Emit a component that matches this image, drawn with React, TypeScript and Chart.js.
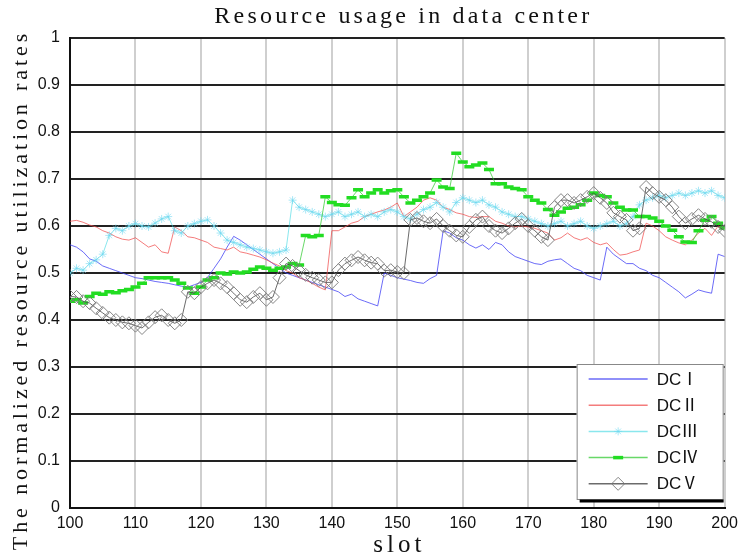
import React, { useEffect, useRef } from 'react';
import { Chart, registerables } from 'chart.js';

Chart.register(...registerables);

const TITLE = 'Resource usage in data center';
const X_TITLE = 'slot';
const Y_TITLE = 'The normalized resource utilization rates';

const X_MIN = 100;
const X_MAX = 200;
const X_STEP = 10;
const Y_MIN = 0;
const Y_MAX = 1;
const Y_STEP = 0.1;

const slots: number[] = [];
for (let s = X_MIN; s <= X_MAX; s++) slots.push(s);

const labels = ['DCⅠ', 'DCⅡ', 'DCⅢ', 'DCⅣ', 'DCⅤ'];

const dc1 = [
  0.56, 0.555, 0.545, 0.53, 0.525, 0.515, 0.51, 0.505, 0.5, 0.495,
  0.49, 0.488, 0.485, 0.482, 0.48, 0.478, 0.475, 0.472, 0.47, 0.475,
  0.48, 0.49, 0.51, 0.53, 0.555, 0.578, 0.57, 0.56, 0.55, 0.54,
  0.53, 0.52, 0.51, 0.5, 0.495, 0.49, 0.485, 0.48, 0.475, 0.47,
  0.465, 0.46, 0.45, 0.455, 0.445, 0.44, 0.435, 0.43, 0.5, 0.495,
  0.49, 0.487, 0.484, 0.48, 0.478, 0.488, 0.495, 0.59, 0.585, 0.575,
  0.57, 0.56, 0.553, 0.56, 0.55, 0.565, 0.56, 0.545, 0.535, 0.53,
  0.525, 0.52, 0.518, 0.525, 0.528, 0.53, 0.52, 0.51, 0.505, 0.495,
  0.49, 0.485, 0.555, 0.54, 0.53, 0.52, 0.52, 0.51, 0.505, 0.495,
  0.49, 0.48, 0.47, 0.46, 0.447, 0.455, 0.464, 0.46, 0.457, 0.54,
  0.535,
];

const dc2 = [
  0.61, 0.612, 0.608, 0.602, 0.598, 0.59, 0.585, 0.577, 0.572, 0.57,
  0.575, 0.565, 0.555, 0.56, 0.545, 0.542, 0.598, 0.59, 0.577, 0.575,
  0.57, 0.565, 0.555, 0.552, 0.549, 0.555, 0.545, 0.542, 0.538, 0.534,
  0.528, 0.521, 0.515, 0.505, 0.5, 0.49, 0.485, 0.478, 0.47, 0.464,
  0.59, 0.59, 0.598, 0.606, 0.61, 0.62, 0.625, 0.63, 0.634, 0.64,
  0.649, 0.62, 0.63, 0.64, 0.655, 0.66, 0.655, 0.64, 0.635, 0.628,
  0.625, 0.62, 0.618, 0.62, 0.62, 0.61, 0.606, 0.6, 0.598, 0.6,
  0.598, 0.595, 0.59, 0.585, 0.57, 0.575, 0.585, 0.575, 0.57, 0.575,
  0.565, 0.56, 0.564, 0.55, 0.538, 0.54, 0.545, 0.549, 0.606, 0.6,
  0.59, 0.577, 0.57, 0.564, 0.56, 0.57, 0.585, 0.595, 0.58, 0.6,
  0.595,
];

const dc3 = [
  0.5, 0.51, 0.506, 0.52, 0.528, 0.54, 0.58, 0.595, 0.59, 0.6,
  0.605, 0.6, 0.598, 0.606, 0.615, 0.62, 0.59, 0.585, 0.6, 0.605,
  0.61, 0.613, 0.6, 0.585, 0.57, 0.565, 0.56, 0.555, 0.552, 0.549,
  0.545, 0.542, 0.545, 0.549, 0.655, 0.64, 0.635, 0.63, 0.625, 0.62,
  0.625, 0.63, 0.62, 0.625, 0.63, 0.62, 0.625, 0.62, 0.63, 0.635,
  0.63, 0.62, 0.615, 0.625, 0.635, 0.64, 0.65, 0.64, 0.63, 0.65,
  0.66, 0.655, 0.65, 0.655, 0.645, 0.64, 0.63, 0.625, 0.62, 0.62,
  0.615, 0.61, 0.605, 0.6, 0.605, 0.61, 0.6, 0.605, 0.61, 0.6,
  0.595, 0.6, 0.605, 0.61, 0.6, 0.605, 0.62, 0.645, 0.655, 0.66,
  0.665, 0.66, 0.665, 0.67, 0.665, 0.67, 0.675, 0.67, 0.675, 0.665,
  0.66,
];

const dc4 = [
  0.44, 0.443, 0.436, 0.45, 0.457, 0.455, 0.46, 0.458, 0.462, 0.465,
  0.47, 0.478, 0.49, 0.49, 0.49, 0.49, 0.485, 0.478, 0.468, 0.457,
  0.47, 0.485, 0.49, 0.5, 0.498, 0.502, 0.5, 0.502, 0.508, 0.513,
  0.51, 0.506, 0.51, 0.513, 0.52, 0.517, 0.58, 0.577, 0.58, 0.662,
  0.65, 0.645, 0.644, 0.66, 0.677, 0.662, 0.67, 0.677, 0.67, 0.675,
  0.677, 0.662, 0.649, 0.655, 0.662, 0.67, 0.698, 0.683, 0.68, 0.755,
  0.736, 0.726, 0.73, 0.734, 0.72, 0.69, 0.69, 0.683, 0.68, 0.677,
  0.662, 0.655, 0.649, 0.635, 0.623, 0.63, 0.638, 0.64, 0.645, 0.655,
  0.67, 0.665, 0.662, 0.649, 0.64, 0.634, 0.634, 0.62, 0.62, 0.617,
  0.61, 0.6, 0.591, 0.577, 0.566, 0.565, 0.59, 0.612, 0.62, 0.606,
  0.596,
];

const dc5 = [
  0.45, 0.449, 0.44, 0.436, 0.425, 0.415, 0.405, 0.4, 0.395, 0.393,
  0.388, 0.383, 0.395, 0.406, 0.41, 0.4, 0.393, 0.4, 0.46, 0.457,
  0.47, 0.478, 0.485, 0.478, 0.47, 0.457, 0.443, 0.438, 0.449, 0.457,
  0.443, 0.449, 0.49, 0.52, 0.515, 0.505, 0.496, 0.49, 0.485, 0.48,
  0.48, 0.506, 0.52, 0.527, 0.534, 0.527, 0.522, 0.52, 0.505, 0.506,
  0.502, 0.5, 0.613, 0.617, 0.61, 0.606, 0.615, 0.6, 0.59, 0.58,
  0.577, 0.598, 0.613, 0.62, 0.6, 0.59, 0.585, 0.595, 0.606, 0.615,
  0.6, 0.59, 0.577, 0.57, 0.64, 0.655, 0.655, 0.649, 0.655, 0.662,
  0.67, 0.66, 0.649, 0.628, 0.62, 0.613, 0.59, 0.595, 0.683, 0.67,
  0.662, 0.655, 0.64, 0.62, 0.606, 0.615, 0.623, 0.615, 0.609, 0.598,
  0.59,
];

const SERIF = "'Liberation Serif', 'Times New Roman', serif";
const SANS = "'Liberation Sans', Arial, 'Noto Sans CJK SC', sans-serif";

const toPoints = (vals: number[]) => vals.map((v, i) => ({ x: slots[i], y: v }));

type Style = {
  line: string;
  marker: string;
  pointStyle: any;
  radius: number;
  pointWidth: number;
};

const styles: Style[] = [
  { line: 'rgba(70,70,245,0.8)', marker: 'rgba(70,70,245,0.8)', pointStyle: false, radius: 0, pointWidth: 0 },
  { line: 'rgba(240,80,80,0.75)', marker: 'rgba(240,80,80,0.75)', pointStyle: false, radius: 0, pointWidth: 0 },
  { line: 'rgba(60,215,225,0.6)', marker: 'rgba(110,215,240,0.6)', pointStyle: 'star', radius: 4, pointWidth: 1 },
  { line: 'rgba(40,200,40,0.7)', marker: '#22dd22', pointStyle: 'line', radius: 5, pointWidth: 3.5 },
  { line: 'rgba(70,70,70,0.8)', marker: 'rgba(120,120,120,0.9)', pointStyle: 'rectRot', radius: 6.5, pointWidth: 1 },
];

function drawMarker(ctx: CanvasRenderingContext2D, st: Style, x: number, y: number) {
  ctx.save();
  ctx.strokeStyle = st.marker;
  ctx.lineWidth = st.pointWidth;
  ctx.beginPath();
  const r = st.radius;
  if (st.pointStyle === 'rectRot') {
    ctx.moveTo(x, y - r);
    ctx.lineTo(x + r, y);
    ctx.lineTo(x, y + r);
    ctx.lineTo(x - r, y);
    ctx.closePath();
  } else if (st.pointStyle === 'line') {
    ctx.moveTo(x - r, y);
    ctx.lineTo(x + r, y);
  } else if (st.pointStyle === 'star') {
    const d = r * Math.SQRT1_2;
    ctx.moveTo(x - r, y); ctx.lineTo(x + r, y);
    ctx.moveTo(x, y - r); ctx.lineTo(x, y + r);
    ctx.moveTo(x - d, y - d); ctx.lineTo(x + d, y + d);
    ctx.moveTo(x - d, y + d); ctx.lineTo(x + d, y - d);
  }
  ctx.stroke();
  ctx.restore();
}

const decorPlugin = {
  id: 'decor',
  afterDraw(chart: any) {
    const { ctx, chartArea } = chart;
    const cx = (chartArea.left + chartArea.right) / 2;
    ctx.save();
    ctx.fillStyle = '#111';
    ctx.textAlign = 'center';
    ctx.textBaseline = 'middle';
    // Title
    ctx.font = `24px ${SERIF}`;
    (ctx as any).letterSpacing = '3.2px';
    ctx.fillText(TITLE, cx + 6, 17);
    // x title
    ctx.font = `25px ${SERIF}`;
    (ctx as any).letterSpacing = '4px';
    ctx.fillText(X_TITLE, cx + 2, 545);
    // y title
    ctx.save();
    ctx.translate(21, 292);
    ctx.rotate(-Math.PI / 2);
    ctx.font = `22px ${SERIF}`;
    (ctx as any).letterSpacing = '3.9px';
    ctx.fillText(Y_TITLE, 2, 0);
    ctx.restore();
    (ctx as any).letterSpacing = '0px';

    // Legend
    const right = chartArea.right - 1;
    const bottom = chartArea.bottom - 8;
    const w = 147;
    const h = 136;
    const left = right - w;
    const top = bottom - h;
    ctx.fillStyle = '#fff';
    ctx.fillRect(left, top, w, h);
    ctx.strokeStyle = '#888';
    ctx.lineWidth = 1;
    ctx.strokeRect(left + 0.5, top + 0.5, w - 1, h - 1);
    ctx.strokeStyle = '#000';
    ctx.lineWidth = 3;
    ctx.beginPath();
    ctx.moveTo(left + 3, bottom + 1);
    ctx.lineTo(right, bottom + 1);
    ctx.stroke();

    const ds = chart.data.datasets;
    ds.forEach((d: any, i: number) => {
      const st = styles[i];
      const y = top + 15 + i * 26.2;
      const x0 = left + 12;
      const x1 = left + 71;
      ctx.strokeStyle = st.line;
      ctx.lineWidth = 1.5;
      ctx.beginPath();
      ctx.moveTo(x0, y);
      ctx.lineTo(x1, y);
      ctx.stroke();
      if (st.pointStyle) drawMarker(ctx, st, (x0 + x1) / 2, y);
      ctx.fillStyle = '#111';
      ctx.textAlign = 'left';
      ctx.textBaseline = 'middle';
      ctx.font = `17px ${SANS}`;
      ctx.fillText(d.label, left + 80, y + 1);
    });
    ctx.restore();
  },
};

export default function App() {
  const ref = useRef<HTMLCanvasElement | null>(null);

  useEffect(() => {
    if (!ref.current) return;
    const series = [dc1, dc2, dc3, dc4, dc5];
    const chart = new Chart(ref.current, {
      type: 'line',
      data: {
        datasets: series.map((vals, i) => ({
          label: labels[i],
          data: toPoints(vals),
          borderColor: styles[i].line,
          backgroundColor: 'transparent',
          borderWidth: 1,
          pointStyle: styles[i].pointStyle,
          pointRadius: styles[i].radius,
          pointBorderColor: styles[i].marker,
          pointBackgroundColor: 'transparent',
          pointBorderWidth: styles[i].pointWidth,
          tension: 0,
          fill: false,
          order: 5 - i,
        })),
      },
      options: {
        responsive: true,
        maintainAspectRatio: false,
        animation: false,
        layout: { padding: { top: 38, right: 19, left: 0, bottom: 0 } },
        plugins: {
          legend: { display: false },
          title: { display: false },
          tooltip: { enabled: false },
        },
        scales: {
          x: {
            type: 'linear',
            min: X_MIN,
            max: X_MAX,
            afterFit: (s: any) => { s.height = 50; },
            ticks: {
              stepSize: X_STEP,
              color: '#111',
              padding: 6,
              maxRotation: 0,
              font: { family: SANS, size: 16 },
            },
            grid: { color: '#cfcfcf', lineWidth: 2, drawTicks: false },
            border: { color: '#111', width: 2 },
          },
          y: {
            type: 'linear',
            min: Y_MIN,
            max: Y_MAX,
            afterFit: (s: any) => { s.width = 70; },
            ticks: {
              stepSize: Y_STEP,
              color: '#111',
              padding: 10,
              font: { family: SANS, size: 16 },
              callback: (v: any) => String(Math.round(Number(v) * 10) / 10),
            },
            grid: { color: '#222', lineWidth: 2, drawTicks: false },
            border: { color: '#111', width: 2 },
          },
        },
      },
      plugins: [decorPlugin],
    });
    return () => chart.destroy();
  }, []);

  return (
    <div style={{ position: 'fixed', left: 0, top: 0, width: 744, height: 558, background: '#fff' }}>
      <canvas ref={ref} />
    </div>
  );
}
